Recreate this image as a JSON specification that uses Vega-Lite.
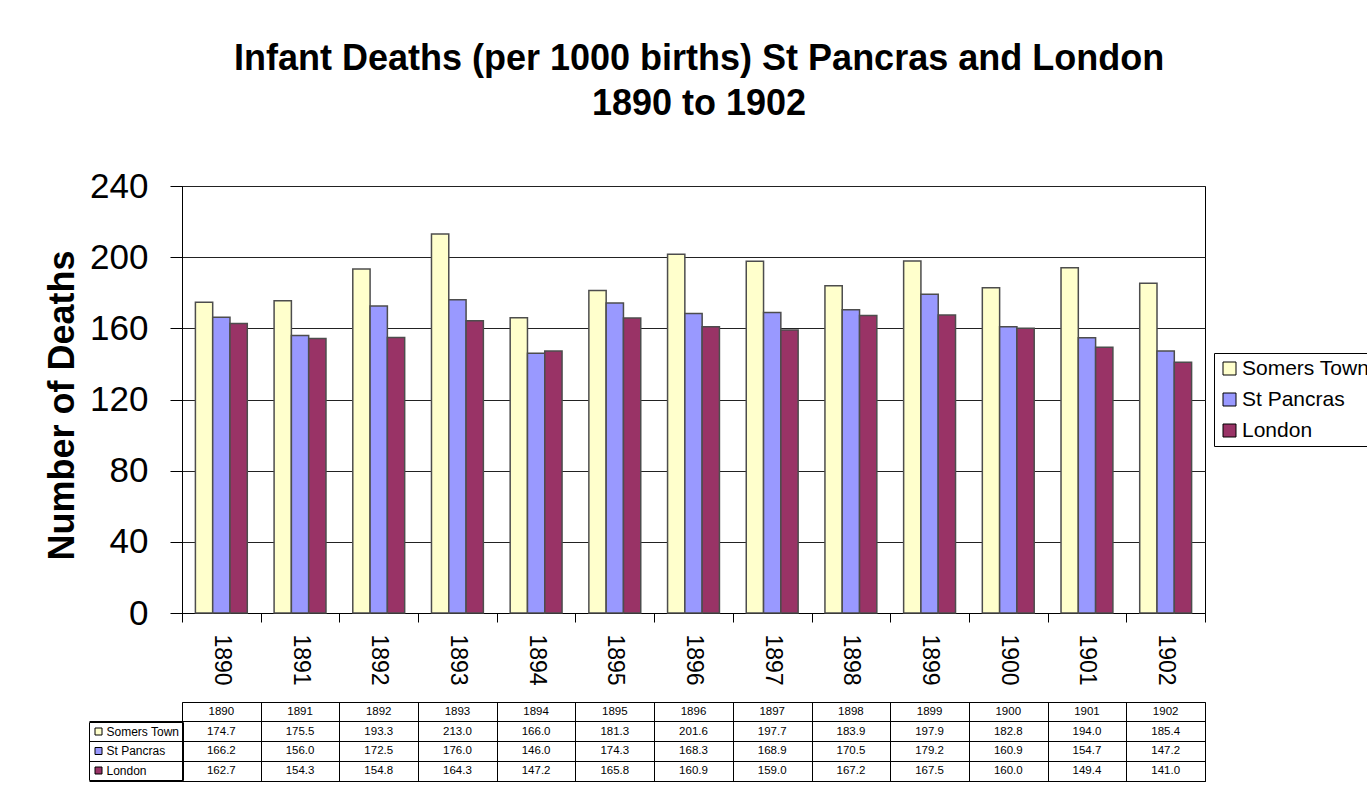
{
  "$schema": "https://vega.github.io/schema/vega-lite/v6.json",
  "background": "white",
  "padding": {"left": 44, "top": 40, "right": 0, "bottom": 0},
  "config": {
    "font": "Liberation Sans",
    "view": {"stroke": "#000", "strokeWidth": 1},
    "axis": {"labelColor": "#000", "titleColor": "#000", "labelFont": "Liberation Sans", "titleFont": "Liberation Sans"},
    "legend": {"labelFont": "Liberation Sans", "labelColor": "#000"}
  },
  "title": {
    "text": ["Infant Deaths (per 1000 births) St Pancras and London", "1890 to 1902"],
    "fontSize": 36,
    "fontWeight": "bold",
    "lineHeight": 45,
    "anchor": "middle",
    "color": "#000",
    "offset": 46,
    "dx": -11
  },
  "resolve": {"legend": {"color": "independent", "fill": "independent"}, "scale": {"color": "independent", "fill": "independent"}},
  "datasets": {
    "deaths": [
      {"year": "1890", "series": "Somers Town", "value": 174.7},
      {"year": "1891", "series": "Somers Town", "value": 175.5},
      {"year": "1892", "series": "Somers Town", "value": 193.3},
      {"year": "1893", "series": "Somers Town", "value": 213.0},
      {"year": "1894", "series": "Somers Town", "value": 166.0},
      {"year": "1895", "series": "Somers Town", "value": 181.3},
      {"year": "1896", "series": "Somers Town", "value": 201.6},
      {"year": "1897", "series": "Somers Town", "value": 197.7},
      {"year": "1898", "series": "Somers Town", "value": 183.9},
      {"year": "1899", "series": "Somers Town", "value": 197.9},
      {"year": "1900", "series": "Somers Town", "value": 182.8},
      {"year": "1901", "series": "Somers Town", "value": 194.0},
      {"year": "1902", "series": "Somers Town", "value": 185.4},
      {"year": "1890", "series": "St Pancras", "value": 166.2},
      {"year": "1891", "series": "St Pancras", "value": 156.0},
      {"year": "1892", "series": "St Pancras", "value": 172.5},
      {"year": "1893", "series": "St Pancras", "value": 176.0},
      {"year": "1894", "series": "St Pancras", "value": 146.0},
      {"year": "1895", "series": "St Pancras", "value": 174.3},
      {"year": "1896", "series": "St Pancras", "value": 168.3},
      {"year": "1897", "series": "St Pancras", "value": 168.9},
      {"year": "1898", "series": "St Pancras", "value": 170.5},
      {"year": "1899", "series": "St Pancras", "value": 179.2},
      {"year": "1900", "series": "St Pancras", "value": 160.9},
      {"year": "1901", "series": "St Pancras", "value": 154.7},
      {"year": "1902", "series": "St Pancras", "value": 147.2},
      {"year": "1890", "series": "London", "value": 162.7},
      {"year": "1891", "series": "London", "value": 154.3},
      {"year": "1892", "series": "London", "value": 154.8},
      {"year": "1893", "series": "London", "value": 164.3},
      {"year": "1894", "series": "London", "value": 147.2},
      {"year": "1895", "series": "London", "value": 165.8},
      {"year": "1896", "series": "London", "value": 160.9},
      {"year": "1897", "series": "London", "value": 159.0},
      {"year": "1898", "series": "London", "value": 167.2},
      {"year": "1899", "series": "London", "value": 167.5},
      {"year": "1900", "series": "London", "value": 160.0},
      {"year": "1901", "series": "London", "value": 149.4},
      {"year": "1902", "series": "London", "value": 141.0}
    ]
  },
  "data": {"name": "deaths"},
  "spacing": 15,
  "vconcat": [
    {
      "width": 1023,
      "height": 427,
      "encoding": {
        "x": {
          "field": "year", "type": "nominal", "sort": null,
          "scale": {"paddingInner": 0, "paddingOuter": 0},
          "axis": {"title": null, "labelAngle": 90, "labelFontSize": 23, "labelPadding": 12, "tickSize": 9, "tickColor": "#000", "domainColor": "#000", "tickBand": "extent", "grid": false}
        },
        "xOffset": {
          "field": "series", "type": "nominal",
          "sort": ["Somers Town", "St Pancras", "London"],
          "scale": {"paddingInner": 0, "paddingOuter": 0.775}
        },
        "y": {
          "field": "value", "type": "quantitative",
          "scale": {"domain": [0, 240], "nice": false},
          "axis": {"title": "Number of Deaths", "values": [0, 40, 80, 120, 160, 200, 240], "labelFontSize": 35, "labelPadding": 22, "tickSize": 12, "tickColor": "#000", "domainColor": "#000", "gridColor": "#222", "gridOpacity": 1, "titleFontSize": 36, "titleFontWeight": "bold", "titlePadding": 8, "titleY": 219}
        }
      },
      "layer": [
        {
          "transform": [{"filter": "datum.series == 'St Pancras'"}],
          "mark": {"type": "bar", "color": "#000", "xOffset": 3, "yOffset": 3, "clip": true}
        },
        {
          "mark": {"type": "bar", "stroke": "#4d4d4d", "strokeWidth": 1.5},
          "encoding": {
            "color": {
              "field": "series", "type": "nominal",
              "scale": {"domain": ["Somers Town", "St Pancras", "London"], "range": ["#FFFFCC", "#9999FF", "#993366"]},
              "legend": {"title": null, "orient": "none", "legendX": 1032, "legendY": 167, "direction": "vertical", "symbolType": "square", "symbolSize": 169, "symbolStrokeColor": "#000", "symbolStrokeWidth": 1, "labelFontSize": 21, "labelOffset": 2, "rowPadding": 9, "padding": 5, "strokeColor": "#000", "fillColor": "#fff"}
            }
          }
        }
      ]
    },
    {
      "width": 1023,
      "height": 79,
      "encoding": {
        "x": {
          "field": "year", "type": "nominal", "sort": null,
          "scale": {"paddingInner": 0, "paddingOuter": 0},
          "axis": {"title": null, "labels": false, "ticks": false, "domain": false, "grid": true, "gridColor": "#000", "gridOpacity": 1, "tickBand": "extent"}
        },
        "y": {
          "field": "series", "type": "nominal",
          "scale": {"domain": ["Year", "Somers Town", "St Pancras", "London"], "paddingInner": 0, "paddingOuter": 0},
          "axis": {"title": null, "labels": false, "domain": false, "ticks": true, "tickSize": 93, "tickColor": "#000", "bandPosition": 1, "grid": true, "gridColor": "#000", "gridOpacity": 1}
        }
      },
      "layer": [
        {
          "mark": {"type": "rect", "fillOpacity": 0},
          "encoding": {
            "fill": {
              "field": "series", "type": "nominal",
              "scale": {"domain": ["Somers Town", "St Pancras", "London"], "range": ["#FFFFCC", "#9999FF", "#993366"]},
              "legend": {"title": null, "orient": "none", "legendX": -93, "legendY": 20, "direction": "vertical", "symbolType": "square", "symbolSize": 49, "symbolOpacity": 1, "symbolFillOpacity": 1, "symbolStrokeColor": "#000", "symbolStrokeWidth": 1, "labelFontSize": 12, "labelOffset": 2, "rowPadding": 7.5, "padding": 3.5, "strokeColor": "#000"}
            }
          }
        },
        {
          "mark": {"type": "text", "fontSize": 11.5, "color": "#000"},
          "encoding": {"text": {"field": "value", "type": "quantitative", "format": ".1f"}}
        },
        {
          "transform": [{"filter": "datum.series == 'Somers Town'"}],
          "mark": {"type": "text", "fontSize": 11.5, "color": "#000"},
          "encoding": {"y": {"datum": "Year"}, "text": {"field": "year"}}
        }
      ]
    }
  ]
}
